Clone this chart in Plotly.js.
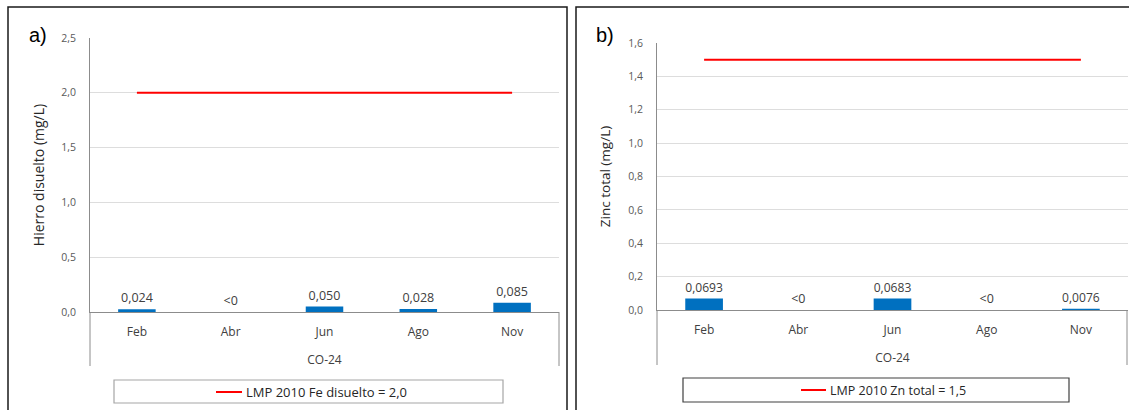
<!DOCTYPE html>
<html>
<head>
<meta charset="utf-8">
<script src="https://cdn.plot.ly/plotly-3.0.1.min.js"></script>
<style>html,body{margin:0;padding:0;background:#fff;}#chart{width:1129px;height:410px;}</style>
</head>
<body>
<div id="chart"></div>
<script>
// ---- data ----
const months = ['Feb', 'Abr', 'Jun', 'Ago', 'Nov'];
const station = 'CO-24';
const feValues = [0.024, 0, 0.050, 0.028, 0.085];
const feLabels = ['0,024', '<0', '0,050', '0,028', '0,085'];
const feLimit = [2.0, 2.0, 2.0, 2.0, 2.0];
const feLimitName = 'LMP 2010 Fe disuelto = 2,0';
const znValues = [0.0693, 0, 0.0683, 0, 0.0076];
const znLabels = ['0,0693', '<0', '0,0683', '<0', '0,0076'];
const znLimit = [1.5, 1.5, 1.5, 1.5, 1.5];
const znLimitName = 'LMP 2010 Zn total = 1,5';

// ---- layout helpers (pixel -> paper) ----
const W = 1129, H = 410;
const px = v => v / W;
const py = v => 1 - v / H;

const FONT = 'Open Sans, Noto Sans, sans-serif';
const barColor = '#0070C0';
const lineColor = '#FF0000';
const axisGrey = '#8C8C8C';

const traces = [
  {type: 'bar', x: months, y: feValues, text: feLabels, textposition: 'outside', cliponaxis: false,
   textfont: {family: FONT, size: 12.5, color: '#404040'}, marker: {color: barColor}, width: 0.4,
   xaxis: 'x', yaxis: 'y', hoverinfo: 'skip'},
  {type: 'scatter', mode: 'lines', x: months, y: feLimit, name: feLimitName,
   line: {color: lineColor, width: 2}, xaxis: 'x', yaxis: 'y', hoverinfo: 'skip'},
  {type: 'bar', x: months, y: znValues, text: znLabels, textposition: 'outside', cliponaxis: false,
   textfont: {family: FONT, size: 12.5, color: '#404040'}, marker: {color: barColor}, width: 0.4,
   xaxis: 'x2', yaxis: 'y2', hoverinfo: 'skip'},
  {type: 'scatter', mode: 'lines', x: months, y: znLimit, name: znLimitName,
   line: {color: lineColor, width: 2}, xaxis: 'x2', yaxis: 'y2', hoverinfo: 'skip'}
];

const xCommon = {
  type: 'category', showline: true, linecolor: axisGrey, linewidth: 1, ticks: '', showgrid: false,
  ticklabelstandoff: 9,
  tickfont: {family: FONT, size: 12, color: '#404040'}, fixedrange: true, automargin: false
};
const yCommon = {
  showline: true, linecolor: axisGrey, linewidth: 1, ticks: '', showgrid: true, gridcolor: '#DDDDDD',
  ticklabelstandoff: 11,
  zeroline: false, tickfont: {family: FONT, size: 10.5, color: '#595959'}, tickformat: '.1f',
  fixedrange: true, automargin: false
};

const layout = {
  width: W, height: H, margin: {l: 0, r: 0, t: 0, b: 0},
  paper_bgcolor: '#fff', plot_bgcolor: '#fff', showlegend: false, separators: ', ',
  font: {family: FONT},
  xaxis: Object.assign({}, xCommon, {domain: [px(90), px(559)], anchor: 'y',
    title: {text: station, font: {family: FONT, size: 12, color: '#404040'}, standoff: 16}}),
  yaxis: Object.assign({}, yCommon, {domain: [py(312), py(38)], range: [0, 2.5], dtick: 0.5, anchor: 'x',
    title: {text: 'Hierro disuelto (mg/L)', font: {family: FONT, size: 14, color: '#262626'}, standoff: 13}}),
  xaxis2: Object.assign({}, xCommon, {domain: [px(657), px(1128)], anchor: 'y2',
    title: {text: station, font: {family: FONT, size: 12, color: '#404040'}, standoff: 16}}),
  yaxis2: Object.assign({}, yCommon, {domain: [py(310), py(43)], range: [0, 1.6], dtick: 0.2, anchor: 'x2',
    title: {text: 'Zinc total (mg/L)', font: {family: FONT, size: 13.5, color: '#262626'}, standoff: 14}}),
  shapes: [
    // panel borders
    {type: 'rect', xref: 'paper', yref: 'paper', x0: px(8), x1: px(567), y0: py(418), y1: py(7), line: {color: '#1a1a1a', width: 1.5}},
    {type: 'rect', xref: 'paper', yref: 'paper', x0: px(576), x1: px(1140), y0: py(418), y1: py(7), line: {color: '#1a1a1a', width: 1.5}},
    // category axis extension lines
    {type: 'line', xref: 'paper', yref: 'paper', x0: px(90), x1: px(90), y0: py(312), y1: py(366), line: {color: axisGrey, width: 1}},
    {type: 'line', xref: 'paper', yref: 'paper', x0: px(559), x1: px(559), y0: py(312), y1: py(366), line: {color: axisGrey, width: 1}},
    {type: 'line', xref: 'paper', yref: 'paper', x0: px(657), x1: px(657), y0: py(310), y1: py(365), line: {color: axisGrey, width: 1}},
    {type: 'line', xref: 'paper', yref: 'paper', x0: px(1127), x1: px(1127), y0: py(310), y1: py(365), line: {color: axisGrey, width: 1}},
    // legend boxes
    {type: 'rect', xref: 'paper', yref: 'paper', x0: px(114), x1: px(503), y0: py(403), y1: py(380), line: {color: '#A6A6A6', width: 1.2}},
    {type: 'rect', xref: 'paper', yref: 'paper', x0: px(683), x1: px(1069), y0: py(402), y1: py(378), line: {color: '#404040', width: 1.2}},
    // legend line samples
    {type: 'line', xref: 'paper', yref: 'paper', x0: px(216), x1: px(242), y0: py(392), y1: py(392), line: {color: lineColor, width: 2}},
    {type: 'line', xref: 'paper', yref: 'paper', x0: px(801), x1: px(826), y0: py(390), y1: py(390), line: {color: lineColor, width: 2}}
  ],
  annotations: [
    {xref: 'paper', yref: 'paper', x: px(27), y: py(35), xanchor: 'left', yanchor: 'middle', text: 'a)', showarrow: false,
     font: {family: 'Liberation Sans, Arial, sans-serif', size: 20, color: '#000'}},
    {xref: 'paper', yref: 'paper', x: px(594), y: py(35), xanchor: 'left', yanchor: 'middle', text: 'b)', showarrow: false,
     font: {family: 'Liberation Sans, Arial, sans-serif', size: 20, color: '#000'}},
    {xref: 'paper', yref: 'paper', x: px(244), y: py(392), xanchor: 'left', yanchor: 'middle', text: feLimitName, showarrow: false,
     font: {family: FONT, size: 13, color: '#262626'}},
    {xref: 'paper', yref: 'paper', x: px(828), y: py(390), xanchor: 'left', yanchor: 'middle', text: znLimitName, showarrow: false,
     font: {family: FONT, size: 12.5, color: '#262626'}}
  ]
};

Plotly.newPlot('chart', traces, layout, {staticPlot: true, displayModeBar: false});
</script>
</body>
</html>
